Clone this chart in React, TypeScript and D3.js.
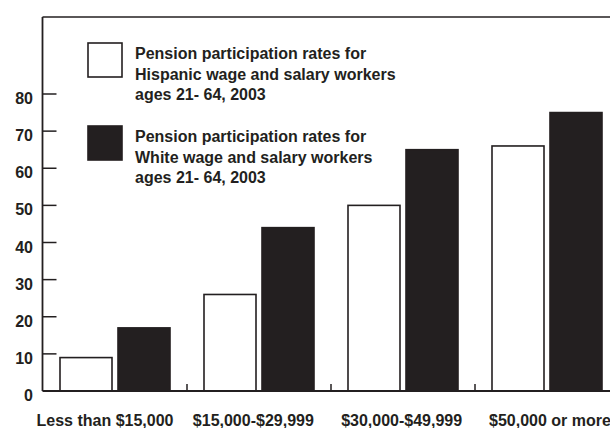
import React from "react";
import * as d3 from "d3";

const categories = ["Less than $15,000", "$15,000-$29,999", "$30,000-$49,999", "$50,000 or more"];
const seriesNames = ["Hispanic", "White"];
const hispanicValues = [9, 26, 50, 66];
const whiteValues = [17, 44, 65, 75];
const yTicks = [0, 10, 20, 30, 40, 50, 60, 70, 80];
const legendLines = [
  ["Pension participation rates for", "Hispanic wage and salary workers", "ages 21- 64, 2003"],
  ["Pension participation rates for", "White wage and salary workers", "ages 21- 64, 2003"],
];

const W = 610;
const H = 428;
const INK = "#231f20";
const FONT = "'Liberation Sans', Arial, Helvetica, sans-serif";

export default function App() {
  const left = 42.5;
  const top = 17;
  const baseY = 391;
  const y = d3.scaleLinear().domain([0, 80]).range([baseY, 94]);
  const x0 = d3.scaleBand<string>().domain(categories).range([43, 619]).padding(0);
  const x1 = d3
    .scaleBand<string>()
    .domain(seriesNames)
    .range([0, x0.bandwidth()])
    .paddingInner(6 / 58)
    .paddingOuter(17 / 58);
  const xLabel = d3.scalePoint<string>().domain(categories).range([105, 550]);
  const fills: Record<string, string> = { Hispanic: "#ffffff", White: INK };
  const data = categories.map((c, i) => ({
    cat: c,
    vals: [
      { s: "Hispanic", v: hispanicValues[i] },
      { s: "White", v: whiteValues[i] },
    ],
  }));
  const legendY = [43, 126];

  return (
    <svg
      width={W}
      height={H}
      style={{ position: "absolute", left: 0, top: 0, background: "#fff" }}
      fontFamily={FONT}
      fontWeight="bold"
    >
      <rect x={0} y={0} width={W} height={H} fill="#fff" />
      {data.map((d) =>
        d.vals.map((b) => (
          <rect
            key={d.cat + b.s}
            x={(x0(d.cat) ?? 0) + (x1(b.s) ?? 0)}
            y={y(b.v)}
            width={x1.bandwidth()}
            height={baseY - y(b.v)}
            fill={fills[b.s]}
            stroke={INK}
            strokeWidth={1.6}
          />
        ))
      )}
      <line x1={left} x2={W} y1={top} y2={top} stroke={INK} strokeWidth={1.5} />
      <line x1={left} x2={left} y1={top} y2={baseY} stroke={INK} strokeWidth={1.8} />
      <line x1={left} x2={W} y1={baseY} y2={baseY} stroke={INK} strokeWidth={1.8} />
      {yTicks.map((t) => (
        <g key={t}>
          {t > 0 && (
            <line x1={left} x2={left + 14} y1={y(t)} y2={y(t)} stroke={INK} strokeWidth={1.5} />
          )}
          <text x={33} y={y(t) + 10} textAnchor="end" fontSize={16} fill={INK}>
            {t}
          </text>
        </g>
      ))}
      {categories.slice(1).map((c) => (
        <line
          key={c}
          x1={x0(c) ?? 0}
          x2={x0(c) ?? 0}
          y1={baseY - 7}
          y2={baseY}
          stroke={INK}
          strokeWidth={1.5}
        />
      ))}
      {categories.map((c) => (
        <text key={c} x={xLabel(c) ?? 0} y={426} textAnchor="middle" fontSize={16} fill={INK}>
          {c}
        </text>
      ))}
      {seriesNames.map((s, i) => (
        <g key={s}>
          <rect
            x={88}
            y={legendY[i]}
            width={34}
            height={34}
            fill={fills[s]}
            stroke={INK}
            strokeWidth={1.6}
          />
          {legendLines[i].map((ln, j) => (
            <text key={j} x={135} y={legendY[i] + 16 + j * 20.5} fontSize={16} fill={INK}>
              {ln}
            </text>
          ))}
        </g>
      ))}
    </svg>
  );
}
